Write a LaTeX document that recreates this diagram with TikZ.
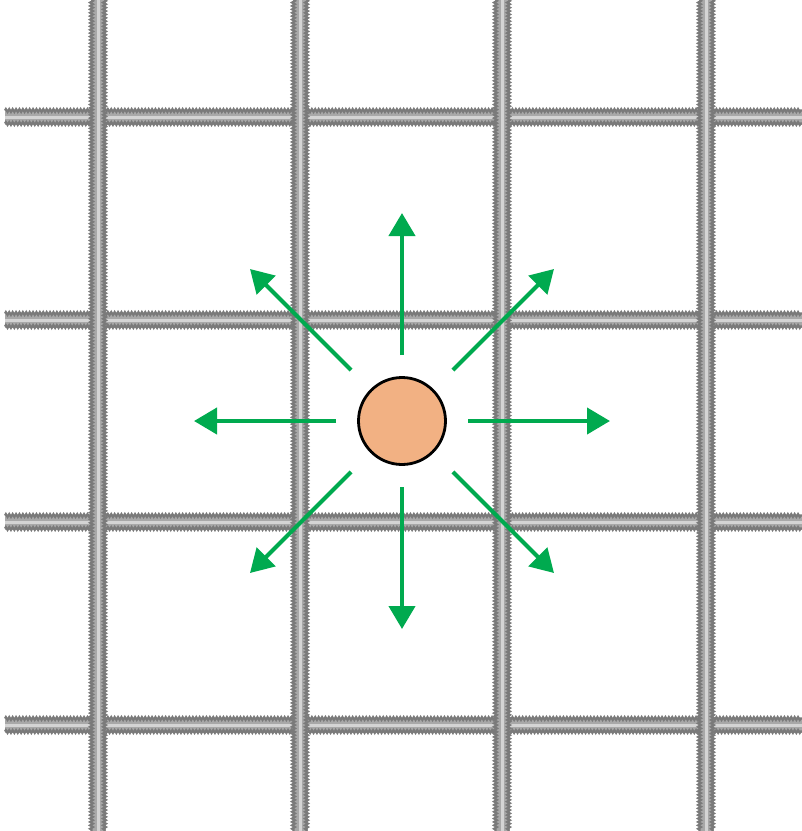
\documentclass[tikz,border=0pt]{standalone}
\usepackage{tikz}
\usetikzlibrary{
  positioning, arrows.meta, calc, decorations.pathmorphing
}
\definecolor{rebargray}{HTML}{A8A8A8}
\definecolor{rebardark}{HTML}{7A7A7A}
\definecolor{rebarlight}{HTML}{D4D4D4}
\definecolor{pushgreen}{HTML}{00AA4F}
\definecolor{ballfill}{HTML}{F2B183}

\begin{document}
\begin{tikzpicture}[
  x=1pt, y=-1pt,
  rebar/.style={line width=15pt, rebargray},
  rebaredge/.style={rebardark, line width=2.2pt,
    decorate, decoration={zigzag, segment length=3.4pt, amplitude=1.4pt}},
  rebarcore/.style={rebarlight, line width=3pt},
  push/.style={pushgreen, line width=4.2pt,
    -{Triangle[length=23pt, width=26pt]}},
]
\useasboundingbox (0,0) rectangle (802,831);

% Barres horizontales
\foreach \y in {117,320,522,725} {
  \draw[rebar] (5,\y) -- (802,\y);
  \draw[rebaredge] (5,\y-6.5) -- (802,\y-6.5);
  \draw[rebaredge] (5,\y+6.5) -- (802,\y+6.5);
  \draw[rebarcore] (5,\y) -- (802,\y);
}

% Barres verticales
\foreach \x in {98,300,502,706} {
  \draw[rebar] (\x,0) -- (\x,831);
  \draw[rebaredge] (\x-6.5,0) -- (\x-6.5,831);
  \draw[rebaredge] (\x+6.5,0) -- (\x+6.5,831);
  \draw[rebarcore] (\x,0) -- (\x,831);
}

% Particule
\node[circle, fill=ballfill, draw=black, line width=2.8pt,
  minimum size=87pt, inner sep=0pt] (ball) at (402,421) {};

% Poussees
\foreach \a in {0,90,180,270} {
  \coordinate (s\a) at ($(ball.center)+(\a:66)$);
  \coordinate (e\a) at ($(ball.center)+(\a:208)$);
  \draw[push] (s\a) -- (e\a);
}
\foreach \a in {45,135,225,315} {
  \coordinate (s\a) at ($(ball.center)+(\a:72)$);
  \coordinate (e\a) at ($(ball.center)+(\a:215)$);
  \draw[push] (s\a) -- (e\a);
}

\end{tikzpicture}
\end{document}
